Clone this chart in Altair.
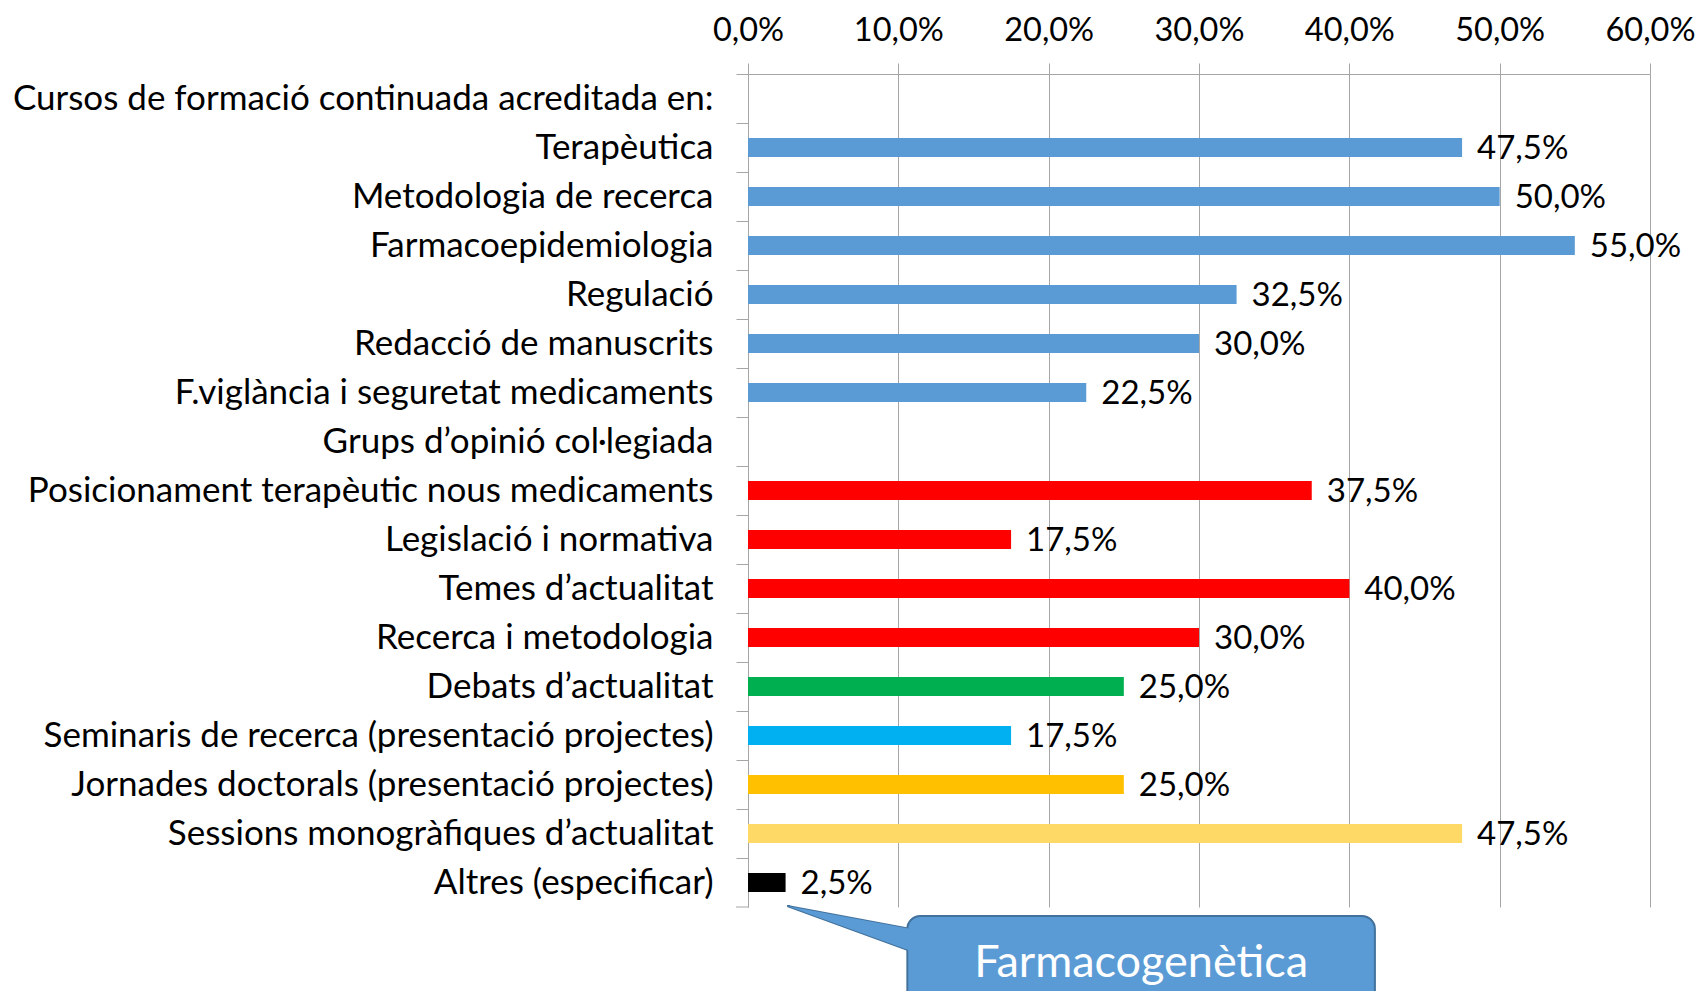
import altair as alt
import pandas as pd

categories = [
    "Cursos de formació continuada acreditada en:",
    "Terapèutica",
    "Metodologia de recerca",
    "Farmacoepidemiologia",
    "Regulació",
    "Redacció de manuscrits",
    "F.viglància i seguretat medicaments",
    "Grups d’opinió col·legiada",
    "Posicionament terapèutic nous medicaments",
    "Legislació i normativa",
    "Temes d’actualitat",
    "Recerca i metodologia",
    "Debats d’actualitat",
    "Seminaris de recerca (presentació projectes)",
    "Jornades doctorals (presentació projectes)",
    "Sessions monogràfiques d’actualitat",
    "Altres (especificar)",
]
values = [None, 0.475, 0.50, 0.55, 0.325, 0.30, 0.225, None,
          0.375, 0.175, 0.40, 0.30, 0.25, 0.175, 0.25, 0.475, 0.025]
colors = [None, "#5B9BD5", "#5B9BD5", "#5B9BD5", "#5B9BD5", "#5B9BD5", "#5B9BD5", None,
          "#FF0000", "#FF0000", "#FF0000", "#FF0000", "#00B050", "#00B0F0",
          "#FFC000", "#FFD966", "#000000"]
x_ticks = [0.0, 0.1, 0.2, 0.3, 0.4, 0.5, 0.6]

callout_text = "Farmacogenètica"
callout_x = [0.106, 0.417]          # box left/right in data units
pointer_x = [0.0262, 0.112]         # pointer tip and base (data units)
pointer_y_top = [832, 856]          # pixel offsets inside the chart
pointer_y_bot = [832, 879]

FONT = "Lato"
GRID = "#A6A6A6"
BLUE = "#5B9BD5"
DARKBLUE = "#41719C"

df = pd.DataFrame({"cat": categories, "value": values, "color": colors})
bars_df = df.dropna().copy()

W, H = 902, 833

xscale = alt.Scale(domain=[0, 0.6], nice=False, zero=True)
yscale = alt.Scale(domain=categories, paddingInner=0, paddingOuter=0)

x_enc = alt.X(
    "value:Q",
    scale=xscale,
    axis=alt.Axis(
        orient="top", values=x_ticks, title=None,
        labelExpr="replace(format(datum.value*100, '.1f'), '.', ',') + '%'",
        labelFont=FONT, labelFontSize=32.5, labelColor="#000000",
        labelPadding=15.5, tickSize=11, tickColor=GRID, domainColor=GRID,
        gridColor=GRID, grid=True, labelFlush=False,
    ),
)
y_enc = alt.Y(
    "cat:N",
    scale=yscale,
    sort=categories,
    axis=alt.Axis(
        title=None, bandPosition=0, labelFont=FONT, labelFontSize=35,
        labelColor="#000000", labelPadding=23, tickSize=12, tickColor=GRID,
        domainColor=GRID, grid=False, labelLimit=1200,
    ),
)

base = alt.Chart(bars_df)

bars = base.mark_bar(height=alt.RelativeBandSize(0.39)).encode(
    x=x_enc, y=y_enc, color=alt.Color("color:N", scale=None)
)

labels = base.transform_calculate(
    lbl="replace(format(datum.value*100, '.1f'), '.', ',') + '%'"
).mark_text(align="left", baseline="middle", dx=15, dy=1, font=FONT, fontSize=33,
            color="#000000").encode(
    x=alt.X("value:Q", scale=xscale),
    y=alt.Y("cat:N", scale=yscale, sort=categories),
    text="lbl:N",
)

last_tick = alt.Chart(pd.DataFrame({"cat": [categories[-1]]})).mark_rule(
    color=GRID, strokeWidth=1
).encode(
    y=alt.Y("cat:N", scale=yscale, sort=categories, bandPosition=1),
    x=alt.value(-12), x2=alt.value(0),
)

ptr_df = pd.DataFrame({"px": pointer_x, "py": pointer_y_top, "py2": pointer_y_bot})
pointer_stroke = alt.Chart(ptr_df).mark_area(
    orient="vertical", fill=BLUE, stroke=DARKBLUE, strokeWidth=2
).encode(
    x=alt.X("px:Q", scale=xscale),
    y=alt.Y("py:Q", scale=None, axis=None),
    y2="py2:Q",
)

box_df = pd.DataFrame({"bx": [callout_x[0]], "bx2": [callout_x[1]],
                       "tx": [(callout_x[0] + callout_x[1]) / 2], "t": [callout_text]})
box = alt.Chart(box_df).mark_rect(
    fill=BLUE, stroke=DARKBLUE, strokeWidth=2, cornerRadius=13
).encode(
    x=alt.X("bx:Q", scale=xscale), x2="bx2:Q",
    y=alt.value(842), y2=alt.value(960),
)

pointer_fill = alt.Chart(ptr_df).mark_area(orient="vertical", fill=BLUE).encode(
    x=alt.X("px:Q", scale=xscale),
    y=alt.Y("py:Q", scale=None, axis=None),
    y2="py2:Q",
)

box_text = alt.Chart(box_df).mark_text(
    font=FONT, fontSize=45, color="#FFFFFF", baseline="middle", align="center"
).encode(
    x=alt.X("tx:Q", scale=xscale),
    y=alt.value(889),
    text="t:N",
)

chart = alt.layer(
    bars, labels, last_tick, pointer_stroke, box, pointer_fill, box_text
).properties(
    width=W, height=H,
    autosize=alt.AutoSizeParams(type="none"),
    padding={"left": 740, "top": 66, "right": 46, "bottom": 84},
).configure_view(strokeWidth=0)

chart.save("out.html", embed_options={"renderer": "svg", "actions": False})
